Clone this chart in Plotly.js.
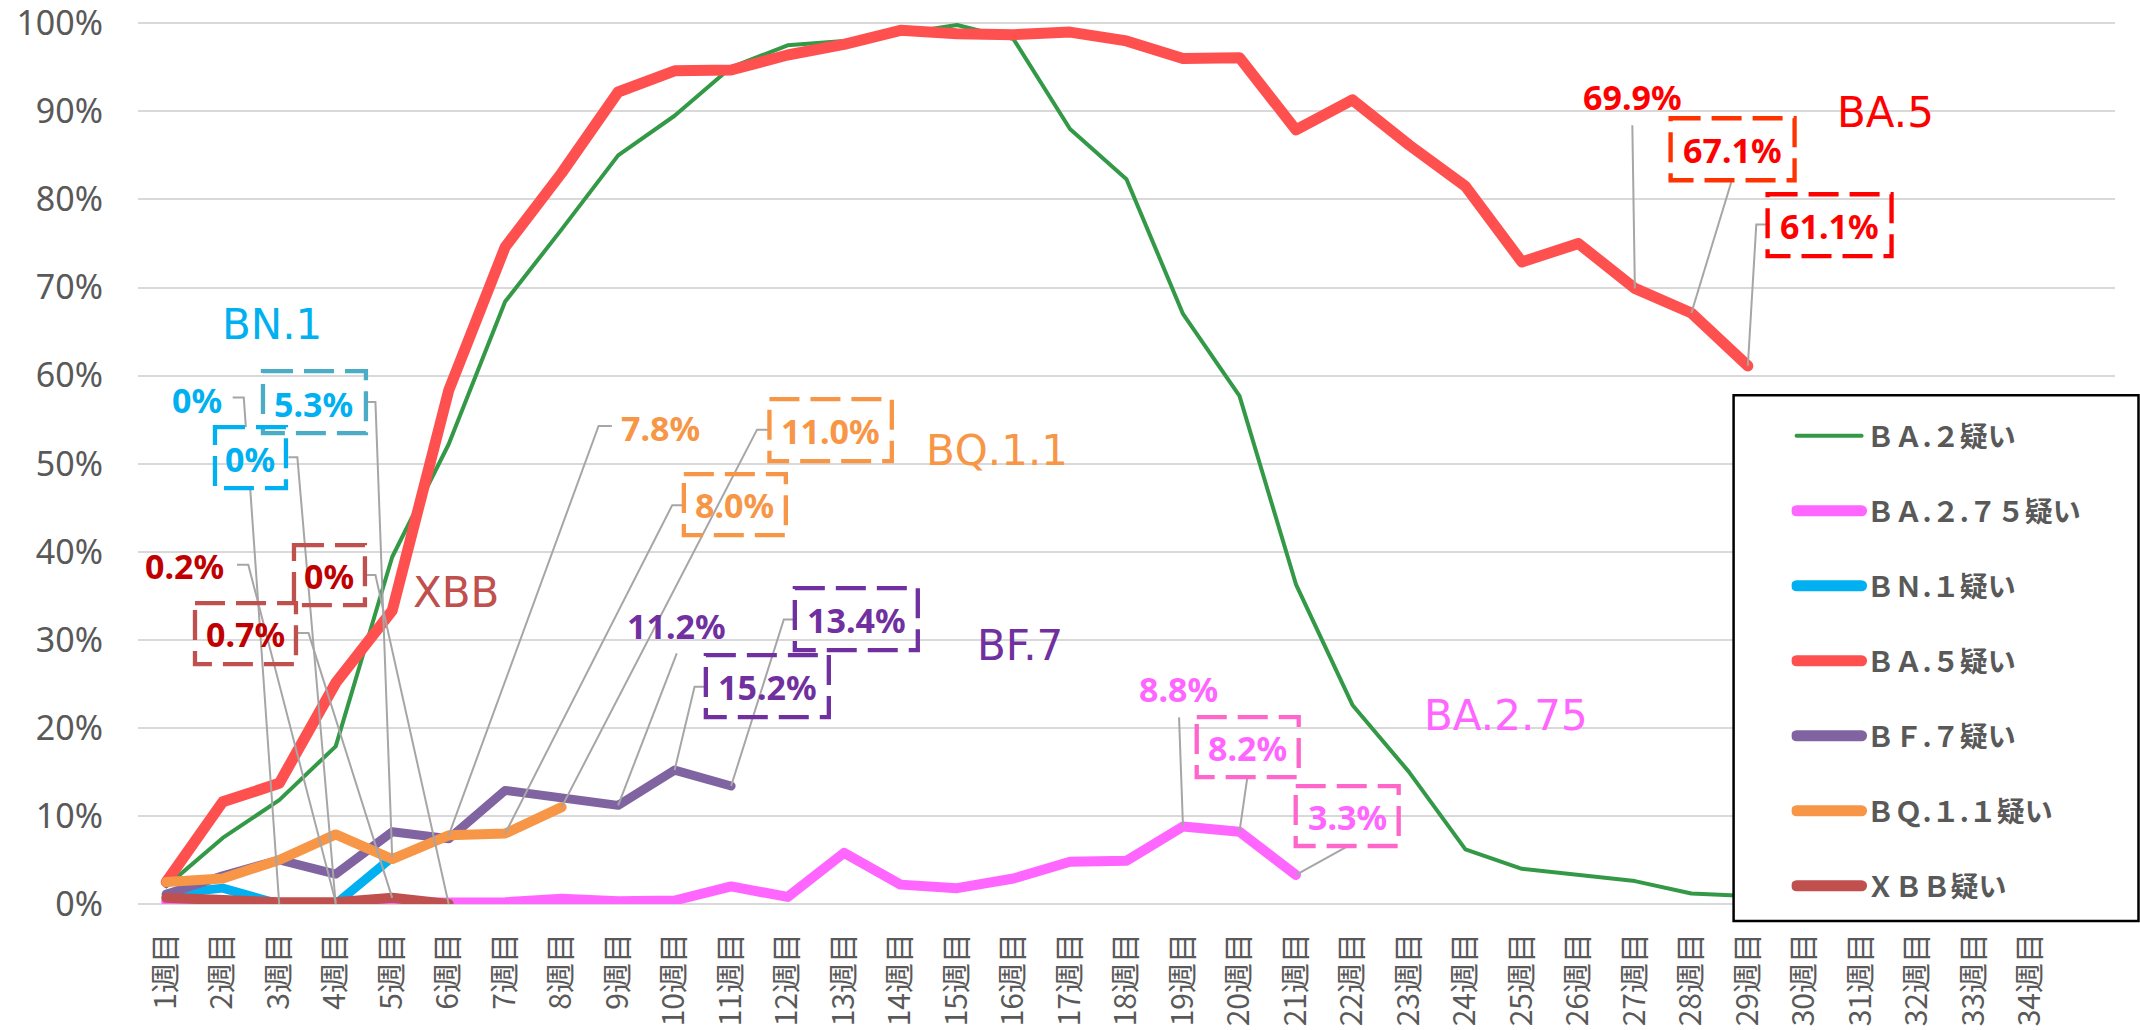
<!DOCTYPE html>
<html><head><meta charset="utf-8">
<script src="https://cdn.plot.ly/plotly-3.0.1.min.js"></script>
<style>
html,body{margin:0;padding:0;background:#fff;}
#chart{width:2140px;height:1030px;}
.scatterlayer .js-line, .legendlines .js-line{stroke-linejoin:round;stroke-linecap:round;}
</style></head><body><div id="chart"></div>
<script>
// ---- data ----
const weeks = ['1週目','2週目','3週目','4週目','5週目','6週目','7週目','8週目','9週目','10週目',
  '11週目','12週目','13週目','14週目','15週目','16週目','17週目','18週目','19週目','20週目',
  '21週目','22週目','23週目','24週目','25週目','26週目','27週目','28週目','29週目','30週目',
  '31週目','32週目','33週目','34週目'];
const seriesNames = ['ＢＡ.２疑い','ＢＡ.２.７５疑い','ＢＮ.１疑い','ＢＡ.５疑い','ＢＦ.７疑い','ＢＱ.１.１疑い','ＸＢＢ疑い'];
const ba2   = [2.0, 7.5, 11.8, 17.9, 39.4, 52.2, 68.4, 76.6, 85.0, 89.5, 95.0, 97.5, 98.0, 98.8, 99.8, 98.2, 88.0, 82.3, 67.0, 57.7, 36.3, 22.6, 15.0, 6.2, 4.0, 3.3, 2.6, 1.2, 0.9];
const ba275 = [0.3, 0.1, 0.1, 0.1, 0.2, 0.2, 0.2, 0.6, 0.3, 0.4, 2.0, 0.8, 5.8, 2.2, 1.8, 2.9, 4.8, 4.9, 8.8, 8.2, 3.3];
const bn1   = [1.1, 1.8, 0, 0, 5.3];
const ba5   = [2.5, 11.6, 13.7, 25.1, 33.3, 58.3, 74.6, 83.0, 92.2, 94.6, 94.7, 96.4, 97.6, 99.2, 98.8, 98.7, 99.0, 98.0, 96.0, 96.1, 87.9, 91.3, 86.2, 81.5, 72.9, 75.0, 69.9, 67.1, 61.1];
const bf7   = [1.1, 3.2, 5.0, 3.4, 8.2, 7.4, 12.9, 12.0, 11.2, 15.2, 13.4];
const bq11  = [2.5, 2.9, 5.0, 7.9, 5.1, 7.8, 8.0, 11.0];
const xbb   = [0.7, 0.4, 0.2, 0.2, 0.7, 0];
const yTickVals = [0,10,20,30,40,50,60,70,80,90,100];
const yTickText = ['0%','10%','20%','30%','40%','50%','60%','70%','80%','90%','100%'];

// ---- geometry (pixels of the plot area) ----
const Y0PX = 904, PXPERPCT = 8.81;
const XMIN = 0.5, XMAX = 35.5, YMIN = 0, YMAX = 100.6;
const PL = 138, PW = 1977.5;
const PT = Y0PX - YMAX * PXPERPCT, PH = Y0PX - PT;
const X = px => XMIN + (px - PL) / PW * (XMAX - XMIN);
const Y = py => YMAX - (py - PT) / PH * (YMAX - YMIN);
const PX = px => (px - PL) / PW;
const PY = py => (PT + PH - py) / PH;

const series = [
  {name: seriesNames[0], y: ba2,   color: '#339947', width: 4},
  {name: seriesNames[1], y: ba275, color: '#FF66FF', width: 10},
  {name: seriesNames[2], y: bn1,   color: '#00B0F0', width: 9},
  {name: seriesNames[3], y: ba5,   color: '#FF5050', width: 11},
  {name: seriesNames[4], y: bf7,   color: '#8064A2', width: 9},
  {name: seriesNames[5], y: bq11,  color: '#F79646', width: 10},
  {name: seriesNames[6], y: xbb,   color: '#C0504D', width: 10}
];
const legendWidths = [4, 11, 11, 11, 11, 11, 11];
const traces = series.map((s, k) => ({
  type: 'scatter', mode: 'lines', name: s.name, legendgroup: 'g' + k,
  x: s.y.map((_, i) => i + 1), y: s.y,
  line: {color: s.color, width: s.width}, hoverinfo: 'skip'
}));

// ---- labels ----
const valueLabels = [
  ['0%', 197, 400, '#00B0F0'], ['5.3%', 314, 404, '#00B0F0'], ['0%', 250.5, 459, '#00B0F0'],
  ['0.2%', 184.5, 566, '#C00000'], ['0%', 329.5, 576, '#C00000'], ['0.7%', 245.5, 634, '#C00000'],
  ['7.8%', 661, 428, '#F79646'], ['8.0%', 735, 505, '#F79646'], ['11.0%', 831, 431, '#F79646'],
  ['11.2%', 677, 626, '#7030A0'], ['15.2%', 767.5, 687, '#7030A0'], ['13.4%', 856.5, 620, '#7030A0'],
  ['8.8%', 1179, 689, '#FF66FF'], ['8.2%', 1248, 748, '#FF66FF'], ['3.3%', 1347.5, 817, '#FF66FF'],
  ['69.9%', 1633, 97, '#FF0000'], ['67.1%', 1733, 150, '#FF0000'], ['61.1%', 1830, 226, '#FF0000']
];
const nameLabels = [
  ['BN.1', 272, 324, '#00B0F0'], ['XBB', 456, 592, '#C0504D'], ['BQ.1.1', 997, 450, '#F79646'],
  ['BF.7', 1020, 645, '#7030A0'], ['BA.2.75', 1506, 715, '#FF66FF'], ['BA.5', 1886, 112, '#FF0000']
];
const annotations = [];
valueLabels.forEach(l => annotations.push({
  text: l[0], x: X(l[1]), y: Y(l[2]), xref: 'x', yref: 'y', showarrow: false,
  xanchor: 'center', yanchor: 'middle',
  font: {family: 'Noto Sans', size: 34, color: l[3], weight: 700}
}));
nameLabels.forEach(l => annotations.push({
  text: l[0], x: X(l[1]), y: Y(l[2]), xref: 'x', yref: 'y', showarrow: false,
  xanchor: 'center', yanchor: 'middle',
  font: {family: 'DejaVu Sans', size: 42, color: l[3]}
}));

// dashed boxes [left, right, top, bottom, color]
const boxes = [
  [263, 366, 371, 433, '#4BACC6'], [215, 286, 427, 488, '#00B0F0'],
  [294, 365, 545, 605, '#C0504D'], [195, 296, 603, 664, '#C0504D'],
  [684, 786, 474, 535, '#F79646'], [769.6, 892, 399, 461, '#F79646'],
  [706, 829, 655, 717, '#7030A0'], [795, 918, 588, 650, '#7030A0'],
  [1197, 1299, 717, 777, '#FF66CC'], [1296, 1399, 786, 846, '#FF66CC'],
  [1671, 1795, 118, 180, '#FF3300'], [1768, 1892, 194, 256, '#FF0000']
];
const shapes = [];
// leader lines: label-side pixel segments, then target series point
const leaders = [
  {segs: [[[232.7, 397.4], [243.8, 397.4], [245.9, 427]], [[250.2, 488]]], s: bn1, i: 2},
  {segs: [[[366.6, 401.8], [375.5, 401.8]]], s: bn1, i: 4},
  {segs: [[[288.5, 457], [297.4, 457]]], s: bn1, i: 3},
  {segs: [[[237, 564.6], [248.3, 564.6]]], s: xbb, i: 3},
  {segs: [[[297.4, 633], [308.6, 633]]], s: xbb, i: 4},
  {segs: [[[365.3, 575], [375.5, 575]]], s: xbb, i: 5},
  {segs: [[[612, 425.8], [598.7, 425.8]]], s: bq11, i: 5},
  {segs: [[[685.8, 505], [672.4, 505]]], s: bq11, i: 6},
  {segs: [[[770.6, 429.5], [757.2, 429.5]]], s: bq11, i: 7},
  {segs: [[[676.9, 653.4]]], s: bf7, i: 8},
  {segs: [[[708, 686.7], [694.7, 686.7]]], s: bf7, i: 9},
  {segs: [[[795.2, 619.3], [784, 619.3]]], s: bf7, i: 10},
  {segs: [[[1179.3, 717.3]]], s: ba275, i: 18},
  {segs: [[[1247.7, 776.7]]], s: ba275, i: 19},
  {segs: [[[1347.3, 846.7]]], s: ba275, i: 20},
  {segs: [[[1632.7, 125]]], s: ba5, i: 26},
  {segs: [[[1731.7, 181.7]]], s: ba5, i: 27},
  {segs: [[[1770, 224.3], [1756.7, 224.3]]], s: ba5, i: 28}
];
leaders.forEach(L => {
  let d = '';
  L.segs.forEach(seg => {
    seg.forEach((p, j) => { d += (j === 0 ? 'M' : 'L') + X(p[0]) + ',' + Y(p[1]) + ' '; });
  });
  d += 'L' + (L.i + 1) + ',' + L.s[L.i];
  shapes.push({type: 'path', path: d, xref: 'x', yref: 'y', layer: 'above',
    line: {color: '#A6A6A6', width: 2}});
});
boxes.forEach(b => shapes.push({
  type: 'rect', xref: 'x', yref: 'y', x0: X(b[0]), x1: X(b[1]), y0: Y(b[2]), y1: Y(b[3]),
  layer: 'above', fillcolor: 'rgba(0,0,0,0)', line: {color: b[4], width: 4.3, dash: '30px,11px'}
}));
// legend frame
shapes.push({type: 'rect', xref: 'paper', yref: 'paper', x0: PX(1734), x1: PX(2139), y0: PY(921), y1: PY(395),
  layer: 'above', fillcolor: '#FFFFFF', line: {color: '#000000', width: 2.5}});

const layout = {
  width: 2140, height: 1030,
  margin: {l: PL, r: 2140 - PL - PW, t: PT, b: 1030 - PT - PH, autoexpand: false},
  paper_bgcolor: '#FFFFFF', plot_bgcolor: '#FFFFFF',
  showlegend: true,
  legend: {
    x: PX(1792), xanchor: 'left', y: PY(410.9), yanchor: 'top',
    bgcolor: 'rgba(0,0,0,0)', borderwidth: 0,
    font: {family: 'Noto Sans CJK JP', size: 28, color: '#595959', weight: 700},
    itemwidth: 65, tracegroupgap: 35.6, traceorder: 'grouped'
  },
  xaxis: {
    type: 'linear', range: [XMIN, XMAX], tickmode: 'array',
    tickvals: weeks.map((_, i) => i + 1), ticktext: weeks, tickangle: -90,
    showgrid: false, zeroline: false, showline: false, ticks: '',
    tickfont: {family: 'Noto Sans CJK JP', size: 30, color: '#595959'},
    ticklabelstandoff: 22, ticklabeloverflow: 'allow'
  },
  yaxis: {
    range: [YMIN, YMAX], tickmode: 'array', tickvals: yTickVals, ticktext: yTickText,
    showgrid: true, gridcolor: '#D9D9D9', gridwidth: 2,
    zeroline: true, zerolinecolor: '#D9D9D9', zerolinewidth: 2, showline: false, ticks: '',
    tickfont: {family: 'Noto Sans', size: 34, color: '#595959'},
    ticklabelstandoff: 34, ticklabeloverflow: 'allow'
  },
  annotations: annotations,
  shapes: shapes
};
Plotly.newPlot('chart', traces, layout, {staticPlot: true, displayModeBar: false}).then(() => {
  document.querySelectorAll('.legend .traces').forEach((g, k) => {
    g.querySelectorAll('.legendlines path').forEach(p => {
      p.style.strokeWidth = legendWidths[k] + 'px';
    });
  });
});
</script></body></html>
